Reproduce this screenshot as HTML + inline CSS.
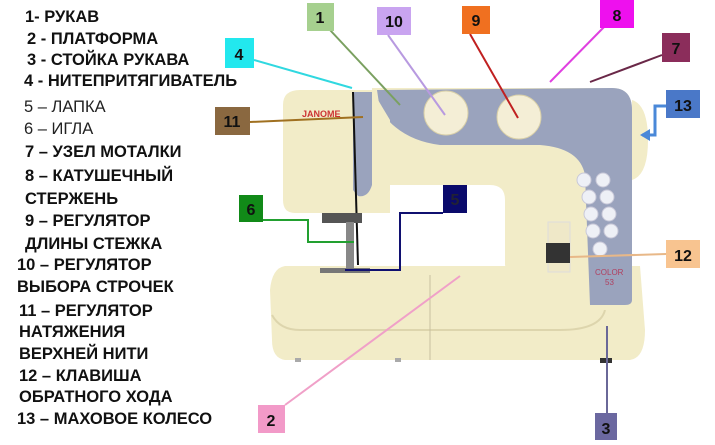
<!DOCTYPE html>
<html><head><meta charset="utf-8"><style>
html,body{margin:0;padding:0;background:#fff;}
svg{display:block}
text{font-family:"Liberation Sans","DejaVu Sans",sans-serif;}
.l{font-size:16.5px;font-weight:bold;fill:#111}
.n{font-size:16.5px;fill:#222}
.b{font-size:16px;font-weight:bold;fill:#111;text-anchor:middle}
</style></head><body>
<svg width="715" height="445" viewBox="0 0 715 445" xmlns="http://www.w3.org/2000/svg">
<rect width="715" height="445" fill="#fff"/>
<!-- base -->
<path d="M285,266 L640,266 L645,330 Q645,358 630,360 L285,360 Q272,358 272,340 L270,290 Q272,268 285,266 z" fill="#f2ecc8"/>
<path d="M272,315 Q280,330 300,330 L560,330 Q600,330 605,310" fill="none" stroke="#ddd5ad" stroke-width="2"/>
<line x1="430" y1="275" x2="430" y2="360" stroke="#c8c0a0" stroke-width="1"/>
<rect x="295" y="358" width="6" height="4" fill="#aaa"/><rect x="395" y="358" width="6" height="4" fill="#aaa"/><rect x="600" y="358" width="12" height="5" fill="#333"/>
<!-- right column and arm -->
<path d="M372,88 L612,88 Q632,88 632,110 L632,300 Q632,310 620,310 L520,310 L505,265 L505,200 Q505,185 490,185 L372,185 z" fill="#f2ecc8"/>
<path d="M377,90 L612,88 Q632,88 632,110 L632,300 Q632,305 625,305 L590,305 L585,175 Q580,148 540,145 L440,145 Q400,140 380,110 z" fill="#9aa3bd"/>
<!-- head -->
<path d="M300,90 L372,90 L390,120 L390,213 L295,213 Q283,213 283,200 L283,105 Q283,90 300,90 z" fill="#f2ecc8"/>
<path d="M353,92 L372,92 L372,185 Q368,198 358,196 L353,190 z" fill="#9aa3bd"/>
<line x1="353" y1="92" x2="358" y2="265" stroke="#111" stroke-width="2"/>
<text x="302" y="117" font-size="9" font-weight="bold" fill="#c33">JANOME</text>
<circle cx="446" cy="113" r="22" fill="#f4eed6" stroke="#d8cfa8"/>
<circle cx="519" cy="117" r="22" fill="#f4eed6" stroke="#d8cfa8"/>
<text x="595" y="275" font-size="8" fill="#b04060">COLOR</text>
<text x="605" y="285" font-size="8" fill="#b04060">53</text>
<g fill="#eef0f6" stroke="#c8c8d8"><circle cx="584" cy="180" r="7"/><circle cx="603" cy="180" r="7"/><circle cx="589" cy="197" r="7"/><circle cx="607" cy="197" r="7"/><circle cx="591" cy="214" r="7"/><circle cx="609" cy="214" r="7"/><circle cx="593" cy="231" r="7"/><circle cx="611" cy="231" r="7"/><circle cx="600" cy="249" r="7"/></g>
<rect x="548" y="222" width="22" height="50" fill="#efe8c8" stroke="#ddd"/>
<rect x="546" y="243" width="24" height="20" fill="#333"/>
<path d="M632,100 Q648,105 648,140 Q648,175 632,180 z" fill="#f2ecc8"/>
<rect x="322" y="213" width="40" height="10" fill="#555"/>
<rect x="346" y="222" width="8" height="48" fill="#888"/>
<rect x="320" y="268" width="50" height="5" fill="#777"/>
<g stroke-width="2" fill="none">
<line x1="330" y1="30" x2="400" y2="105" stroke="#7aa060"/>
<line x1="388" y1="35" x2="445" y2="115" stroke="#b89ae0"/>
<line x1="470" y1="34" x2="518" y2="118" stroke="#c02020"/>
<line x1="605" y1="26" x2="550" y2="82" stroke="#e040e0"/>
<line x1="662" y1="55" x2="590" y2="82" stroke="#6a2848"/>
<line x1="254" y1="60" x2="352" y2="88" stroke="#30d8e0"/>
<line x1="250" y1="122" x2="363" y2="117" stroke="#a07020"/>
<path d="M666,106 L655,106 L655,135 L642,135" stroke="#4a88d8" stroke-width="3"/>
<path d="M263,220 L308,220 L308,242 L354,242" stroke="#22a030"/>
<path d="M443,213 L400,213 L400,270 L345,270" stroke="#101070"/>
<line x1="666" y1="254" x2="570" y2="257" stroke="#e8b888"/>
<line x1="285" y1="405" x2="460" y2="276" stroke="#f0a0c8"/>
<line x1="607" y1="413" x2="607" y2="326" stroke="#6a6898"/>
</g>
<path d="M640,135 L650,129 L650,141 z" fill="#4a88d8"/>
<rect x="307" y="3" width="27" height="28" fill="#a6d08f"/><text class="b" x="320" y="23">1</text>
<rect x="377" y="7" width="34" height="28" fill="#c9a4f0"/><text class="b" x="394" y="27">10</text>
<rect x="462" y="6" width="28" height="28" fill="#f07020"/><text class="b" x="476" y="26">9</text>
<rect x="600" y="0" width="34" height="28" fill="#ee10ee"/><text class="b" x="617" y="21">8</text>
<rect x="662" y="33" width="28" height="29" fill="#8b2d5b"/><text class="b" x="676" y="54">7</text>
<rect x="225" y="38" width="29" height="30" fill="#22e8ee"/><text class="b" x="239" y="60">4</text>
<rect x="215" y="107" width="35" height="28" fill="#8a6840"/><text class="b" x="232" y="127">11</text>
<rect x="666" y="90" width="34" height="28" fill="#4a78c8"/><text class="b" x="683" y="111">13</text>
<rect x="239" y="195" width="24" height="27" fill="#118a18"/><text class="b" x="251" y="215">6</text>
<rect x="443" y="185" width="24" height="28" fill="#0a0a6b"/><text class="b" x="455" y="205" style="fill:#223">5</text>
<rect x="666" y="240" width="34" height="28" fill="#f8c490"/><text class="b" x="683" y="261">12</text>
<rect x="258" y="405" width="27" height="28" fill="#f29ac8"/><text class="b" x="271" y="426">2</text>
<rect x="595" y="413" width="22" height="27" fill="#6b68a0"/><text class="b" x="606" y="434">3</text>
<text class="l" x="25" y="22">1- РУКАВ</text>
<text class="l" x="27" y="44">2 - ПЛАТФОРМА</text>
<text class="l" x="27" y="65">3 - СТОЙКА РУКАВА</text>
<text class="l" x="24" y="86">4 - НИТЕПРИТЯГИВАТЕЛЬ</text>
<text class="n" x="24" y="112">5 – ЛАПКА</text>
<text class="n" x="24" y="134">6 – ИГЛА</text>
<text class="l" x="25" y="157">7 – УЗЕЛ МОТАЛКИ</text>
<text class="l" x="25" y="181">8 – КАТУШЕЧНЫЙ</text>
<text class="l" x="25" y="204">СТЕРЖЕНЬ</text>
<text class="l" x="25" y="226">9 – РЕГУЛЯТОР</text>
<text class="l" x="25" y="249">ДЛИНЫ СТЕЖКА</text>
<text class="l" x="17" y="270">10 – РЕГУЛЯТОР</text>
<text class="l" x="17" y="292">ВЫБОРА СТРОЧЕК</text>
<text class="l" x="19" y="316">11 – РЕГУЛЯТОР</text>
<text class="l" x="19" y="337">НАТЯЖЕНИЯ</text>
<text class="l" x="19" y="359">ВЕРХНЕЙ НИТИ</text>
<text class="l" x="19" y="381">12 – КЛАВИША</text>
<text class="l" x="19" y="402">ОБРАТНОГО ХОДА</text>
<text class="l" x="17" y="424">13 – МАХОВОЕ КОЛЕСО</text>
</svg>
</body></html>
